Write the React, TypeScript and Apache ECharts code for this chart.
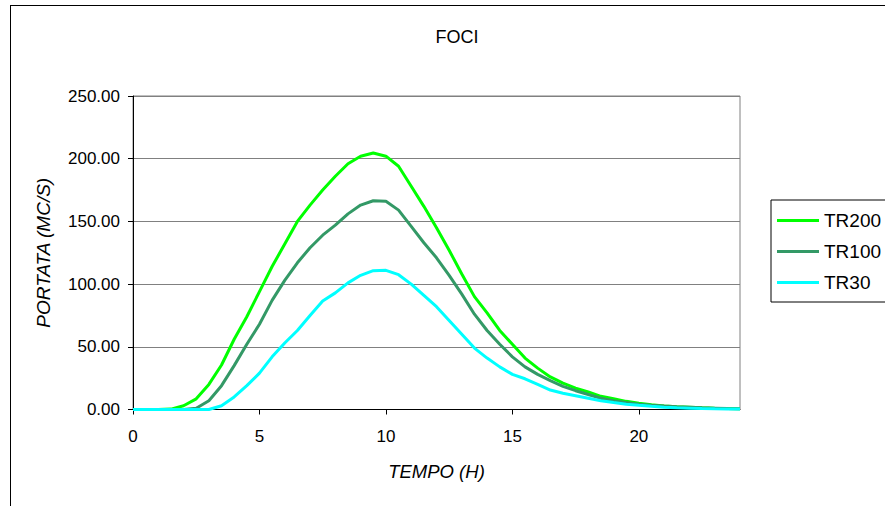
import React, { useEffect, useRef } from "react";
import * as echarts from "echarts";

const hours = [
  0, 0.5, 1, 1.5, 2, 2.5, 3, 3.5, 4, 4.5, 5, 5.5, 6, 6.5, 7, 7.5, 8, 8.5, 9, 9.5, 10, 10.5, 11, 11.5,
  12, 12.5, 13, 13.5, 14, 14.5, 15, 15.5, 16, 16.5, 17, 17.5, 18, 18.5, 19, 19.5, 20, 20.5, 21, 21.5,
  22, 22.5, 23, 23.5, 24,
];

const tr200 = [
  0, 0, 0, 0.3, 3, 8.5, 20, 35.5, 56, 74, 94, 114, 132, 150, 163, 175, 186, 196, 202, 204.5, 202, 194,
  178, 162, 145, 127, 108, 90, 77, 63, 52, 41, 33, 26, 21, 17, 14, 10.5, 8.5, 6.5, 5, 3.8, 2.8, 2.2,
  1.8, 1.3, 1, 0.8, 0.5,
];

const tr100 = [
  0, 0, 0, 0, 0, 1, 7, 19, 35, 52, 68, 87, 103, 117, 129, 139, 147, 156, 163, 166.5, 166, 159, 146,
  133, 121, 107, 92, 76, 63, 52, 42, 34, 28, 23, 18.5, 15, 12, 9, 7, 5.5, 4.2, 3.3, 2.7, 2.2, 1.8, 1.3,
  1, 0.7, 0.5,
];

const tr30 = [
  0, 0, 0, 0, 0, 0, 0, 3, 10, 19, 29, 42, 53, 63, 75, 86.5, 93, 101, 107, 110.7, 111, 107.5, 100, 91,
  82, 71, 60, 49, 41, 34, 28, 24.5, 20, 15.5, 13, 11, 9, 7, 5.5, 4.2, 3.3, 2.5, 1.8, 1.3, 1, 0.7, 0.5,
  0.4, 0.3,
];

const xTicks = [0, 5, 10, 15, 20];

const FONT = "Liberation Sans, Arial, sans-serif";

export default function App() {
  const ref = useRef<HTMLDivElement>(null);

  useEffect(() => {
    if (!ref.current) return;
    const chart = echarts.init(ref.current, null, { renderer: "svg" });
    const pairs = (vals: number[]) => hours.map((h, i) => [h, vals[i]]);
    chart.setOption({
      animation: false,
      backgroundColor: "#ffffff",
      textStyle: { fontFamily: FONT },
      title: {
        text: "FOCI",
        left: 452,
        top: 23,
        textAlign: "center",
        textStyle: { fontFamily: FONT, fontSize: 18, fontWeight: "normal", color: "#000" },
      },
      grid: {
        left: 133,
        top: 96,
        right: 145,
        bottom: 96.5,
        show: true,
        borderColor: "#808080",
        borderWidth: 1,
        backgroundColor: "transparent",
      },
      legend: {
        orient: "vertical",
        left: 771,
        top: 200,
        borderColor: "#000",
        borderWidth: 1,
        padding: [11, 6, 10, 6],
        icon: "rect",
        itemWidth: 42,
        itemHeight: 3,
        itemGap: 12,
        textStyle: { fontFamily: FONT, fontSize: 19, color: "#000" },
        data: ["TR200", "TR100", "TR30"],
      },
      xAxis: {
        type: "value",
        min: 0,
        max: 24,
        interval: 5,
        name: "TEMPO (H)",
        nameLocation: "middle",
        nameGap: 52,
        nameTextStyle: { fontFamily: FONT, fontSize: 18.5, fontStyle: "italic", color: "#000" },
        axisLine: { show: true, lineStyle: { color: "#000", width: 1 } },
        axisTick: { show: true, inside: false, length: 5, customValues: xTicks, lineStyle: { color: "#000" } },
        axisLabel: {
          customValues: xTicks,
          margin: 18,
          fontFamily: FONT,
          fontSize: 17,
          color: "#000",
        },
        splitLine: { show: false },
      },
      yAxis: {
        type: "value",
        min: 0,
        max: 250,
        interval: 50,
        name: "PORTATA (MC/S)",
        nameLocation: "middle",
        nameGap: 80,
        nameRotate: 90,
        nameTextStyle: { fontFamily: FONT, fontSize: 19, fontStyle: "italic", color: "#000" },
        axisLine: { show: true, lineStyle: { color: "#000", width: 1 } },
        axisTick: { show: true, inside: false, length: 5, lineStyle: { color: "#000" } },
        axisLabel: {
          margin: 13,
          fontFamily: FONT,
          fontSize: 17,
          color: "#000",
          formatter: (v: number) => v.toFixed(2),
        },
        splitLine: { show: true, lineStyle: { color: "#808080", width: 1 } },
      },
      series: [
        {
          name: "TR200",
          type: "line",
          data: pairs(tr200),
          symbol: "none",
          color: "#00FF00",
          lineStyle: { color: "#00FF00", width: 3 },
        },
        {
          name: "TR100",
          type: "line",
          data: pairs(tr100),
          symbol: "none",
          color: "#339966",
          lineStyle: { color: "#339966", width: 3 },
        },
        {
          name: "TR30",
          type: "line",
          data: pairs(tr30),
          symbol: "none",
          color: "#00FFFF",
          lineStyle: { color: "#00FFFF", width: 3 },
        },
      ],
      graphic: [
        {
          type: "line",
          shape: { x1: 10.5, y1: 5, x2: 10.5, y2: 506 },
          style: { stroke: "#000", lineWidth: 1 },
          silent: true,
        },
        {
          type: "line",
          shape: { x1: 10, y1: 5.5, x2: 885, y2: 5.5 },
          style: { stroke: "#000", lineWidth: 1 },
          silent: true,
        },
      ],
    });
    return () => chart.dispose();
  }, []);

  return (
    <div
      ref={ref}
      style={{ position: "fixed", left: 0, top: 0, width: 885, height: 506, background: "#fff" }}
    />
  );
}
